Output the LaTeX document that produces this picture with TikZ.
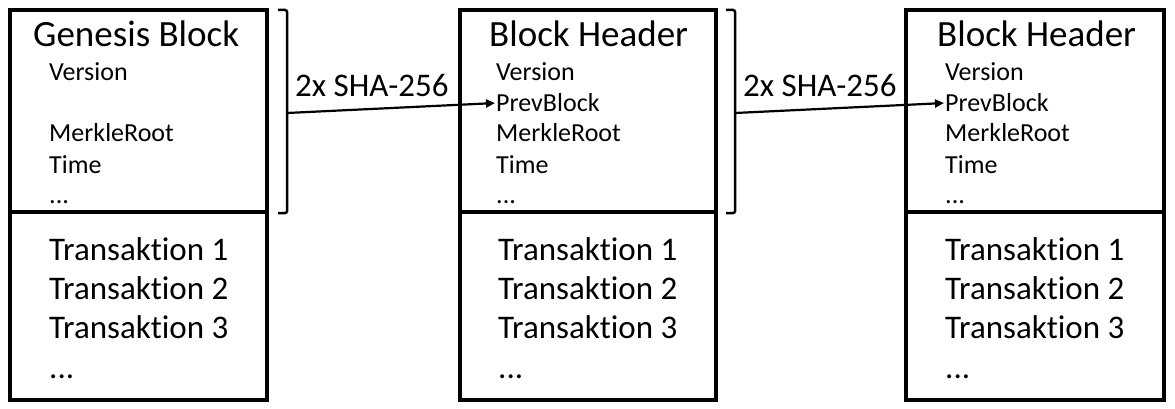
\documentclass[tikz,border=0pt]{standalone}
\usepackage{fontspec}
\setmainfont{Carlito}[Ligatures=NoCommon]
\usetikzlibrary{arrows.meta}
\begin{document}
\begin{tikzpicture}[x=1pt,y=-1pt,
  frame/.style={draw, line width=3.5pt, anchor=north west, inner sep=0pt, outer sep=0pt},
  title/.style={anchor=base west, inner sep=0pt, font=\fontsize{37}{40}\selectfont},
  item/.style={anchor=base west, inner sep=0pt, font=\fontsize{26}{30}\selectfont},
  tx/.style={anchor=base west, inner sep=0pt, font=\fontsize{33}{36}\selectfont},
  hash/.style={anchor=base west, inner sep=0pt, font=\fontsize{33}{36}\selectfont},
  brack/.style={line width=2.5pt, rounded corners=2pt},
  link/.style={line width=2.2pt, -{Triangle[length=9pt,width=8pt]}}]
\useasboundingbox (0,0) rectangle (1175,409);
% block 1
\node[frame, minimum width=257pt, minimum height=202pt] (h1) at (10,10) {};
\node[frame, minimum width=257pt, minimum height=188pt] (b1) at (10,212) {};
\node[title] (t1) at (33,47) {Genesis Block};
\node[item] (v1) at (49,81) {Version};
\node[item] (m1) at (49,142) {MerkleRoot};
\node[item] (ti1) at (49,173) {Time};
\node[item] (d1) at (49,203) {...};
\node[tx] (x11) at (49,260) {Transaktion 1};
\node[tx] (x12) at (49,299) {Transaktion 2};
\node[tx] (x13) at (49,338) {Transaktion 3};
\node[tx] (x14) at (49,378) {...};
% block 2
\node[frame, minimum width=256pt, minimum height=202pt] (h2) at (460,10) {};
\node[frame, minimum width=256pt, minimum height=188pt] (b2) at (460,212) {};
\node[title] (t2) at (489,47) {Block Header};
\node[item] (v2) at (496,81) {Version};
\node[item] (p2) at (496,112) {PrevBlock};
\node[item] (m2) at (496,142) {MerkleRoot};
\node[item] (ti2) at (496,173) {Time};
\node[item] (d2) at (496,203) {...};
\node[tx] (x21) at (498,260) {Transaktion 1};
\node[tx] (x22) at (498,299) {Transaktion 2};
\node[tx] (x23) at (498,338) {Transaktion 3};
\node[tx] (x24) at (498,378) {...};
% block 3
\node[frame, minimum width=258pt, minimum height=202pt] (h3) at (906,10) {};
\node[frame, minimum width=258pt, minimum height=188pt] (b3) at (906,212) {};
\node[title] (t3) at (937,47) {Block Header};
\node[item] (v3) at (945,81) {Version};
\node[item] (p3) at (945,112) {PrevBlock};
\node[item] (m3) at (945,142) {MerkleRoot};
\node[item] (ti3) at (945,173) {Time};
\node[item] (d3) at (945,203) {...};
\node[tx] (x31) at (945,260) {Transaktion 1};
\node[tx] (x32) at (945,299) {Transaktion 2};
\node[tx] (x33) at (945,338) {Transaktion 3};
\node[tx] (x34) at (945,378) {...};
% brackets
\draw[brack] (278,10) -- (287,10) -- (287,213) -- (278,213);
\draw[brack] (726,10) -- (735,10) -- (735,213) -- (726,213);
\coordinate (s1) at (287,113);
\coordinate (s2) at (735,113);
% labels
\node[hash] (l1) at (295,97) {2x SHA-256};
\node[hash] (l2) at (743,97) {2x SHA-256};
% arrows
\draw[link] (s1) -- ([xshift=-1pt]p2.west);
\draw[link] (s2) -- ([xshift=-1pt]p3.west);
\end{tikzpicture}
\end{document}
